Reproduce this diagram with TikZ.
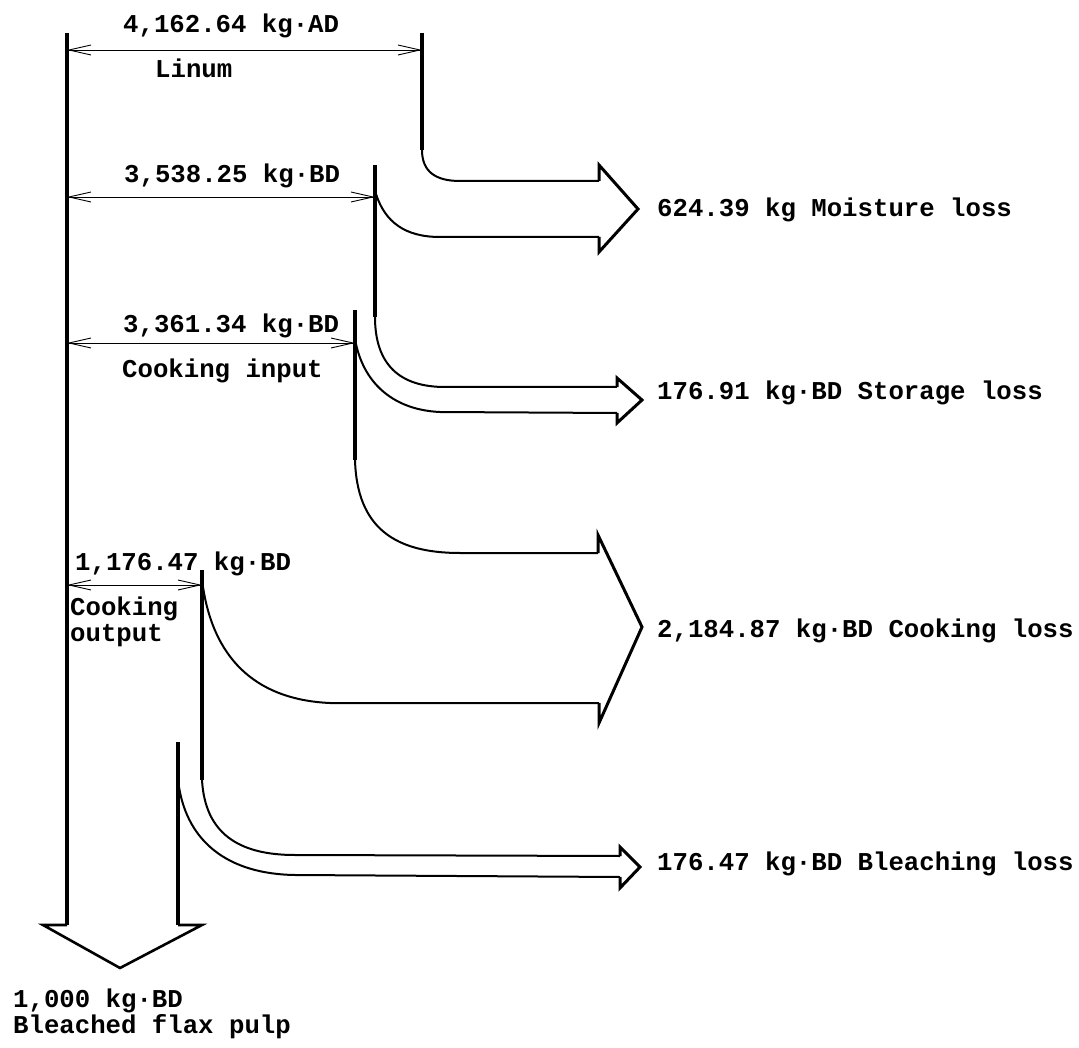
\documentclass[tikz,border=0pt]{standalone}
\usepackage{fontspec}
\setmonofont{Liberation Mono}
\usetikzlibrary{arrows.meta}
\begin{document}
\begin{tikzpicture}[x=1pt,y=-1pt,
  lbl/.style={font=\ttfamily\bfseries\fontsize{25.7}{30}\selectfont, anchor=base west, inner sep=0pt},
  stem/.style={line width=3.6pt},
  flow/.style={line width=2pt, line join=miter},
  headline/.style={line width=3pt, line join=miter},
  dim/.style={line width=0.9pt, {Straight Barb[length=22pt,width=10pt]}-{Straight Barb[length=22pt,width=10pt]}}
]
\fill[white] (0,0) rectangle (1079,1048);
\useasboundingbox (0,0) rectangle (1079,1048);

% coordinates
\coordinate (L1) at (67,50);   \coordinate (R1) at (422,50);
\coordinate (L2) at (67,197);  \coordinate (R2) at (375,197);
\coordinate (L3) at (67,343);  \coordinate (R3) at (355,343);
\coordinate (L4) at (67,585);  \coordinate (R4) at (202,585);

% main stems
\draw[stem] (67,33) -- (67,925);
\draw[stem] (422,33) -- (422,150);
\draw[stem] (375,165) -- (375,317);
\draw[stem] (355,310) -- (355,460);
\draw[stem] (202,570) -- (202,780);
\draw[stem] (178,742) -- (178,925);

% dimension arrows
\draw[dim] (L1) -- (R1);
\draw[dim] (L2) -- (R2);
\draw[dim] (L3) -- (R3);
\draw[dim] (L4) -- (R4);

% moisture loss band
\draw[flow] (422,150) .. controls (422,172) and (436,181) .. (460,181) -- (599,181);
\draw[headline] (599,181) -- (599,165) -- (638,209) -- (599,252) -- (599,237);
\draw[flow] (599,237) -- (440,237) .. controls (405,237) and (385,222) .. (376,194);

% storage loss band
\draw[flow] (375,317) .. controls (375,365) and (400,387) .. (445,387) -- (617,387);
\draw[headline] (617,387) -- (617,378) -- (642,400) -- (617,423) -- (617,413);
\draw[flow] (617,413) -- (440,412) .. controls (395,410) and (365,385) .. (356,344);

% cooking loss band
\draw[flow] (355,460) .. controls (357,528) and (395,553) .. (460,553) -- (598,553);
\draw[headline] (598,553) -- (598,535) -- (642,627) -- (599,723) -- (599,703);
\draw[flow] (599,703) -- (330,703) .. controls (262,700) and (215,665) .. (203,587);

% bleaching loss band
\draw[flow] (202,780) .. controls (205,833) and (238,855) .. (295,855) -- (620,856);
\draw[headline] (620,856) -- (620,847) -- (640,867) -- (620,888) -- (620,877);
\draw[flow] (620,877) -- (295,875) .. controls (228,874) and (188,842) .. (179,787);

% output arrow
\draw[line width=2.6pt, line join=miter] (67,925) -- (43,925) -- (120,968) -- (202,925) -- (178,925);

% labels
\node[lbl] (t1) at (123,33) {4,162.64 kg·AD};
\node[lbl] (t1b) at (155,78) {Linum};
\node[lbl] (t2) at (124,183) {3,538.25 kg·BD};
\node[lbl] (t3) at (123,333) {3,361.34 kg·BD};
\node[lbl] (t3b) at (122,378) {Cooking input};
\node[lbl] (t4) at (75,570) {1,176.47 kg·BD};
\node[lbl] (t4b) at (70,615) {Cooking};
\node[lbl] (t4c) at (70,641) {output};
\node[lbl] (o1) at (13,1007) {1,000 kg·BD};
\node[lbl] (o2) at (13,1033) {Bleached flax pulp};
\node[lbl] (m) at (657,217) {624.39 kg Moisture loss};
\node[lbl] (s) at (657,400) {176.91 kg·BD Storage loss};
\node[lbl] (c) at (657,637) {2,184.87 kg·BD Cooking loss};
\node[lbl] (b) at (657,870) {176.47 kg·BD Bleaching loss};
\end{tikzpicture}
\end{document}
